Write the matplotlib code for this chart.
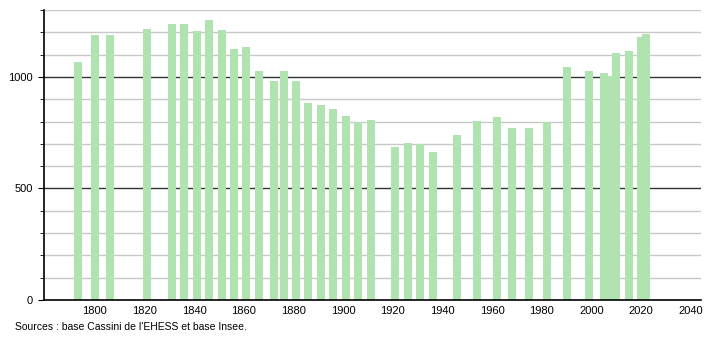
import numpy as np
import matplotlib.pyplot as plt
from matplotlib.ticker import MultipleLocator

years = [1793, 1800, 1806, 1821, 1831, 1836, 1841, 1846, 1851, 1856,
         1861, 1866, 1872, 1876, 1881, 1886, 1891, 1896, 1901, 1906,
         1911, 1921, 1926, 1931, 1936, 1946, 1954, 1962, 1968, 1975,
         1982, 1990, 1999, 2005, 2007, 2010, 2015, 2020, 2022]
population = [1067, 1187, 1187, 1213, 1236, 1236, 1206, 1254, 1209, 1127,
              1136, 1025, 980, 1026, 980, 884, 872, 854, 827, 799,
              809, 688, 704, 698, 665, 740, 804, 822, 769, 769,
              799, 1044, 1026, 1019, 1004, 1109, 1116, 1181, 1191]
xticks = list(range(1800, 2041, 20))
source = "Sources : base Cassini de l'EHESS et base Insee."


def main():
    plt.rcParams["font.family"] = ["Liberation Sans", "DejaVu Sans"]
    fig = plt.figure(figsize=(7.1, 3.4), dpi=100)
    ax = fig.add_axes([0.062, 0.1176, 0.925, 0.853])

    # light grid every 100, darker lines at 500 and 1000
    for v in range(100, 1301, 100):
        if v in (500, 1000):
            continue
        ax.axhline(v, color="#c8c8c8", lw=1, zorder=0)
    for v in (500, 1000):
        ax.axhline(v, color="#333333", lw=1, zorder=0)

    ax.bar(years, population, width=3.2, color="#b0e3b0", zorder=2)

    ax.set_xlim(1779.5, 2044)
    ax.set_ylim(0, 1300)
    ax.set_xticks(xticks)
    ax.set_yticks([0, 500, 1000])
    ax.yaxis.set_minor_locator(MultipleLocator(100))
    ax.tick_params(axis="x", length=0, labelsize=8, pad=4)
    ax.tick_params(axis="y", which="major", length=4, labelsize=8, pad=4)
    ax.tick_params(axis="y", which="minor", length=3)

    for s in ("top", "right"):
        ax.spines[s].set_visible(False)
    ax.spines["left"].set_linewidth(1.2)
    ax.spines["bottom"].set_linewidth(1.2)

    fig.text(0.021, 0.038, source, fontsize=7.5, ha="left", va="center")

    fig.savefig("out.png", dpi=100)


if __name__ == "__main__":
    main()
